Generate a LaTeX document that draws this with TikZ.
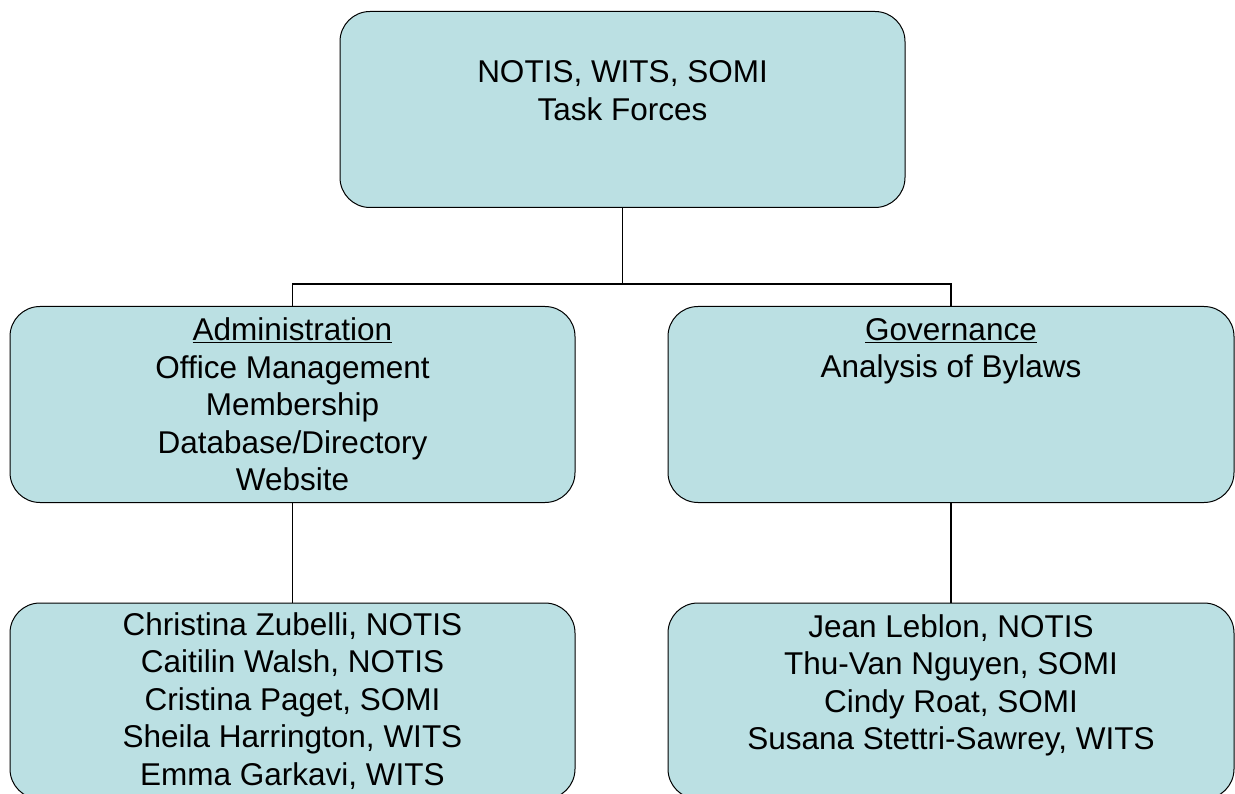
\documentclass[tikz,border=0pt]{standalone}
\usepackage{fontspec}
\setmainfont{Liberation Sans}
\usetikzlibrary{positioning,calc}
\definecolor{boxfill}{RGB}{187,224,227}

\begin{document}
\begin{tikzpicture}[x=1pt,y=-1pt,
		box/.style={draw=black, fill=boxfill, rounded corners=30pt, line width=1pt,
			minimum width=565pt, minimum height=196pt, align=center, inner sep=0pt,
			font=\fontsize{31.5}{37.5}\selectfont},
		link/.style={draw=black, line width=1.2pt}]
		\useasboundingbox (0,0) rectangle (1235,794);

		\node[box] (top) at (622.5,109.5) {NOTIS, WITS, SOMI\\Task Forces\\\mbox{}};
		\node[box] (admin) at (292.5,404.5) {\underline{Administration}\\Office Management\\Membership\\Database/Directory\\Website};
		\node[box, minimum width=566pt] (gov) at (951,404.5) {\underline{Governance}\\Analysis of Bylaws\\\mbox{}\\\mbox{}\\\mbox{}};
		\node[box] (adminteam) at (292.5,701) {Christina Zubelli, NOTIS\\Caitilin Walsh, NOTIS\\Cristina Paget, SOMI\\Sheila Harrington, WITS\\Emma Garkavi, WITS};
		\node[box, minimum width=566pt] (govteam) at (951,701) {Jean Leblon, NOTIS\\Thu-Van Nguyen, SOMI\\Cindy Roat, SOMI\\Susana Stettri-Sawrey, WITS\\\mbox{}};

		\coordinate (split) at (622.5,284);
		\draw[link] (top.south) -- (split);
		\draw[link] (admin.north) |- (split) -| (gov.north);
		\draw[link] (admin.south) -- (adminteam.north);
		\draw[link] (gov.south) -- (govteam.north);
	\end{tikzpicture}
\end{document}
